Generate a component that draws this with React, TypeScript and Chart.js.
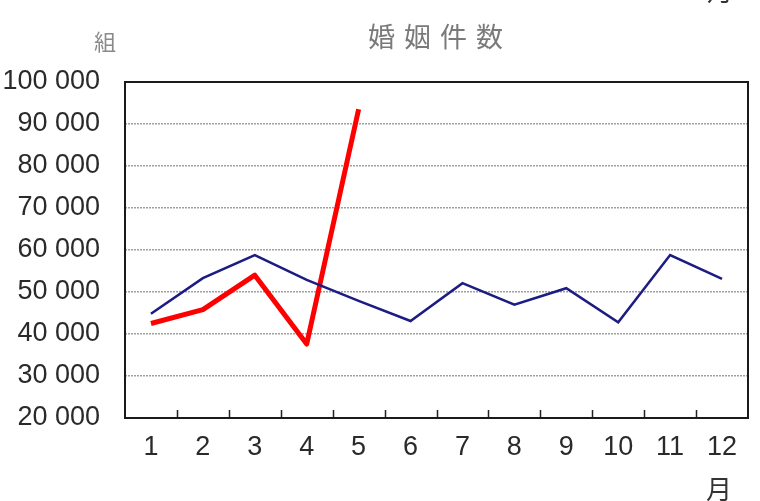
import { Chart, registerables, type Plugin } from "chart.js";
import { useEffect, useRef } from "react";

Chart.register(...registerables);

const months = ["1", "2", "3", "4", "5", "6", "7", "8", "9", "10", "11", "12"];
// previous year (blue) and current year (red, Jan-May only)
const prevYear = [44800, 53300, 58800, 52900, 47900, 43100, 52100, 47000, 50900, 42800, 58800, 53100];
const thisYear = [42500, 45800, 54000, 37600, 93500];
const yMin = 20000;
const yMax = 100000;
const yStep = 10000;

const titleText = "婚姻件数";
const unitText = "組";
const monthText = "月";

const fmt = (v: number) => String(v).replace(/\B(?=(\d{3})+(?!\d))/g, " ");

const framePlugin: Plugin<"line"> = {
  id: "frame",
  afterDatasetsDraw(chart) {
    const { ctx, chartArea: a, scales } = chart;
    const x = scales.x;
    ctx.save();
    // small tick marks between months, pointing up from the bottom edge
    ctx.strokeStyle = "#222";
    ctx.lineWidth = 1.5;
    ctx.beginPath();
    for (let i = 1; i < months.length; i++) {
      const px = Math.round(x.getPixelForValue(i - 0.5)) + 0.5;
      ctx.moveTo(px, a.bottom);
      ctx.lineTo(px, a.bottom - 8);
    }
    ctx.stroke();
    ctx.lineWidth = 2;
    ctx.strokeStyle = "#1a1a1a";
    ctx.strokeRect(a.left, a.top, a.right - a.left, a.bottom - a.top);

    const cjk = '"Noto Sans CJK JP", "Noto Sans CJK SC", sans-serif';
    ctx.textAlign = "center";
    ctx.textBaseline = "middle";
    ctx.fillStyle = "#7a7a7a";
    ctx.font = `27px ${cjk}`;
    (ctx as any).letterSpacing = "9px";
    ctx.fillText(titleText, 440, 37);
    (ctx as any).letterSpacing = "0px";
    ctx.fillStyle = "#8a8a8a";
    ctx.font = `22px ${cjk}`;
    ctx.fillText(unitText, 105, 42);
    ctx.fillStyle = "#333";
    ctx.font = `26px ${cjk}`;
    ctx.fillText(monthText, 719, 489);
    ctx.fillText(monthText, 720, -9);
    ctx.restore();
  },
};

export default function App() {
  const canvasRef = useRef<HTMLCanvasElement | null>(null);
  const chartRef = useRef<Chart<"line"> | null>(null);

  useEffect(() => {
    document.body.style.margin = "0";
    const canvas = canvasRef.current;
    if (!canvas) {
      return;
    }

    chartRef.current?.destroy();
    chartRef.current = new Chart(canvas, {
      type: "line",
      data: {
        labels: months,
        datasets: [
          {
            label: "前年",
            data: prevYear,
            borderColor: "#1c1c82",
            borderWidth: 2.5,
            pointRadius: 0,
            tension: 0,
          },
          {
            label: "本年",
            data: thisYear,
            borderColor: "#ff0000",
            borderWidth: 5,
            pointRadius: 0,
            tension: 0,
            borderJoinStyle: "round",
          },
        ],
      },
      options: {
        responsive: true,
        maintainAspectRatio: false,
        animation: false,
        layout: { padding: { left: 0, right: 12, top: 82, bottom: 0 } },
        plugins: {
          legend: { display: false },
          tooltip: { enabled: false },
        },
        scales: {
          x: {
            offset: true,
            grid: { display: false, drawTicks: false },
            border: { display: false },
            ticks: {
              padding: 13,
              color: "#2a2a2a",
              font: { family: '"Liberation Sans", Arial, sans-serif', size: 27 },
              maxRotation: 0,
            },
            afterFit: (scale) => {
              scale.height = 83;
            },
          },
          y: {
            min: yMin,
            max: yMax,
            grid: {
              color: "#a0a0a0",
              lineWidth: 1.5,
              drawTicks: false,
            },
            border: { display: false, dash: [2, 1] },
            ticks: {
              stepSize: yStep,
              padding: 25,
              color: "#2a2a2a",
              font: { family: '"Liberation Sans", Arial, sans-serif', size: 27 },
              callback: (v) => fmt(Number(v)),
            },
            afterFit: (scale) => {
              scale.width = 125;
            },
          },
        },
      },
      plugins: [framePlugin],
    });

    return () => {
      chartRef.current?.destroy();
      chartRef.current = null;
    };
  }, []);

  return (
    <div style={{ position: "relative", width: 760, height: 501, background: "#fff" }}>
      <canvas ref={canvasRef} />
    </div>
  );
}
